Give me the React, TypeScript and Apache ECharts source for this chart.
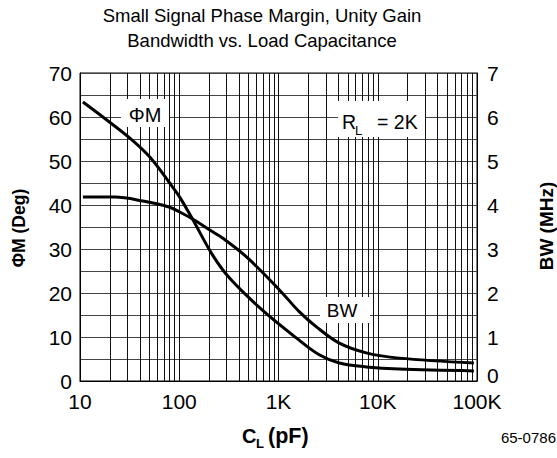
import React, { useEffect, useRef } from "react";
import * as echarts from "echarts";

// Tick labels
const xTickValues = [10, 100, 1000, 10000, 100000];
const xTickLabels = ["10", "100", "1K", "10K", "100K"];
const decades = [10, 100, 1000, 10000];
const minorMultipliers = [2, 3, 4, 5, 6, 7, 8, 9];

// Phase margin (deg) vs load capacitance (pF)
const pmC = [10.7, 17, 31.8, 50.5, 80, 101, 136, 217, 321, 688, 1510, 2600, 4100, 7650, 16400, 93000];
const pmDeg = [63.4, 60.0, 55.2, 50.9, 45.0, 41.8, 36.8, 28.6, 23.4, 16.1, 9.8, 5.9, 4.1, 3.2, 2.7, 2.3];

// Unity gain bandwidth (MHz) vs load capacitance (pF)
const bwC = [10.7, 22.5, 43, 80, 101, 136, 217, 273, 476, 1023, 1626, 2410, 4100, 7650, 16400, 93000];
const bwMHz = [4.18, 4.18, 4.09, 3.95, 3.84, 3.68, 3.39, 3.25, 2.82, 2.07, 1.57, 1.23, 0.86, 0.64, 0.52, 0.41];

const FONT = "'Liberation Sans', Arial, Helvetica, sans-serif";

export default function App() {
  const ref = useRef<HTMLDivElement>(null);

  useEffect(() => {
    if (!ref.current) return;
    const chart = echarts.init(ref.current, undefined, { renderer: "svg" });

    const minorX: number[] = [];
    decades.forEach((d) => minorMultipliers.forEach((m) => minorX.push(d * m)));

    const txt = (x: number, y: number, text: string, size: number, extra: any = {}, styleExtra: any = {}) => ({
      type: "text",
      z: 101,
      x,
      y,
      ...extra,
      style: {
        text,
        fontFamily: FONT,
        fontSize: size,
        fill: "#000",
        textAlign: "left",
        textVerticalAlign: "middle",
        ...styleExtra,
      },
    });

    const option: any = {
      animation: false,
      backgroundColor: "#fff",
      grid: {
        left: 80,
        right: 80,
        top: 73,
        bottom: 77,
        show: true,
        borderColor: "#000",
        borderWidth: 1,
        backgroundColor: "transparent",
      },
      xAxis: {
        type: "log",
        logBase: 10,
        min: 10,
        max: 100000,
        axisLine: { show: true, lineStyle: { color: "#000", width: 1 } },
        axisTick: { show: false },
        splitLine: { show: true, lineStyle: { color: "#111", width: 1 } },
        axisLabel: {
          fontFamily: FONT,
          fontSize: 21,
          lineHeight: 16,
          color: "#000",
          margin: 12,
          formatter: (v: number) => {
            const i = xTickValues.findIndex((t) => Math.abs(t - v) / t < 1e-6);
            return i >= 0 ? xTickLabels[i] : "";
          },
        },
      },
      yAxis: [
        {
          type: "value",
          min: 0,
          max: 70,
          interval: 5,
          axisLine: { show: true, lineStyle: { color: "#000", width: 1 } },
          axisTick: { show: false },
          splitLine: { show: true, lineStyle: { color: "#444", width: 1 } },
          axisLabel: {
            fontFamily: FONT,
            fontSize: 21,
            lineHeight: 16,
            color: "#000",
            margin: 8,
            formatter: (v: number) => (v % 10 === 0 ? String(v) : ""),
          },
        },
        {
          type: "value",
          min: 0,
          max: 7,
          interval: 1,
          position: "right",
          axisLine: { show: true, lineStyle: { color: "#000", width: 1 } },
          axisTick: { show: false },
          splitLine: { show: false },
          axisLabel: {
            fontFamily: FONT,
            fontSize: 21,
            lineHeight: 16,
            color: "#000",
            margin: 10,
            formatter: (v: number) => (v === 0 ? "{z|0}" : String(v)),
            rich: {
              z: {
                fontFamily: FONT,
                fontSize: 21,
                lineHeight: 16,
                color: "#000",
                padding: [0, 0, 12, 0],
              },
            },
          },
        },
      ],
      series: [
        {
          name: "ΦM",
          type: "line",
          xAxisIndex: 0,
          yAxisIndex: 0,
          data: pmC.map((c, i) => [c, pmDeg[i]]),
          smooth: 0.35,
          showSymbol: false,
          symbol: "none",
          lineStyle: { color: "#000", width: 3 },
          z: 5,
          markLine: {
            silent: true,
            symbol: ["none", "none"],
            label: { show: false },
            lineStyle: { color: "#111", width: 1, type: "solid" },
            emphasis: { disabled: true },
            data: minorX.map((v) => ({ xAxis: v })),
            z: 1,
          },
        },
        {
          name: "BW",
          type: "line",
          xAxisIndex: 0,
          yAxisIndex: 1,
          data: bwC.map((c, i) => [c, bwMHz[i]]),
          smooth: 0.35,
          showSymbol: false,
          symbol: "none",
          lineStyle: { color: "#000", width: 3 },
          z: 5,
        },
      ],
      graphic: [
        // Title
        txt(262, 15, "Small Signal Phase Margin, Unity Gain", 18.5, {}, { textAlign: "center" }),
        txt(262, 40, "Bandwidth vs. Load Capacitance", 18.5, {}, { textAlign: "center" }),
        // ΦM label
        { type: "rect", z: 100, shape: { x: 121, y: 99, width: 48, height: 28 }, style: { fill: "#fff" } },
        txt(145, 115, "ΦM", 20, {}, { textAlign: "center" }),
        // R_L = 2K label
        { type: "rect", z: 100, shape: { x: 338, y: 101, width: 87, height: 36 }, style: { fill: "#fff" } },
        txt(342, 122, "R", 19.5),
        txt(355, 130, "L", 13),
        txt(377, 122, "= 2K", 19.5),
        // BW label
        { type: "rect", z: 100, shape: { x: 320, y: 297, width: 50, height: 26 }, style: { fill: "#fff" } },
        txt(342, 310, "BW", 19, {}, { textAlign: "center" }),
        // Axis titles
        txt(19, 228, "ΦM (Deg)", 17.5, { rotation: Math.PI / 2 }, { textAlign: "center", fontWeight: "bold" }),
        txt(546, 226, "BW (MHz)", 19, { rotation: Math.PI / 2 }, { textAlign: "center", fontWeight: "bold" }),
        txt(242, 436, "C", 20, {}, { fontWeight: "bold" }),
        txt(256, 443, "L", 13, {}, { fontWeight: "bold" }),
        txt(268, 436, "(pF)", 21.5, {}, { fontWeight: "bold" }),
        // Figure code
        txt(556, 437, "65-0786", 15, {}, { textAlign: "right" }),
      ],
    };

    chart.setOption(option);
    return () => chart.dispose();
  }, []);

  return (
    <div
      ref={ref}
      style={{ position: "fixed", left: 0, top: 0, width: 557, height: 458, background: "#fff" }}
    />
  );
}
